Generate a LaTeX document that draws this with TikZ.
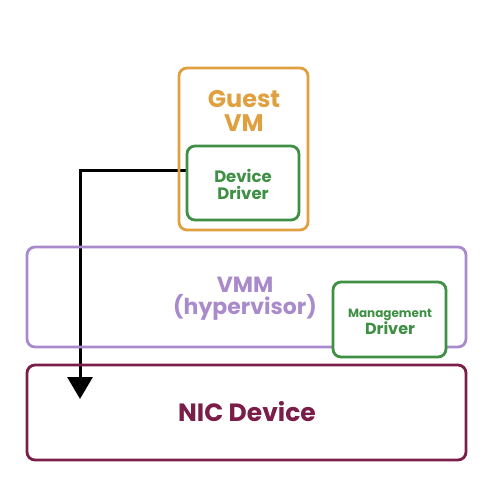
\documentclass[tikz,border=0pt]{standalone}
\usepackage{fontspec}
\setmainfont{Poppins}
\usetikzlibrary{arrows.meta}
\definecolor{guestc}{HTML}{E0A040}
\definecolor{greenc}{HTML}{3F8F45}
\definecolor{purplec}{HTML}{A98BCB}
\definecolor{nicc}{HTML}{7A1D48}
\tikzset{
  box/.style={draw, line width=2.8pt, rounded corners=8pt},
  lbl/.style={font=\bfseries, align=center, inner sep=0pt}
}
\begin{document}
\begin{tikzpicture}[x=1pt,y=-1pt]
\useasboundingbox (0,0) rectangle (493,483);
% anchors
\coordinate (dd) at (187,170);
\coordinate (bend) at (80,170);
\coordinate (nic) at (80,399);
% arrow
\draw[line width=3pt, -{Triangle[length=22pt,width=25pt]}] (dd) -- (bend) -- (nic);
% boxes
\draw[box, guestc] (179,68) rectangle (308,230);
\draw[box, purplec] (27,247) rectangle (466,347);
\draw[box, nicc] (27,365) rectangle (466,460);
\draw[box, greenc, fill=white] (333,282) rectangle (446,357);
\draw[box, greenc, fill=white] (187,146) rectangle (299,220);
% labels
\node[lbl, text=guestc, font=\bfseries\fontsize{24}{24}\selectfont] (guestlbl) at (244,111) {Guest\\VM};
\node[lbl, text=greenc, font=\bfseries\fontsize{16.5}{17}\selectfont] (ddlbl) at (243,184) {Device\\Driver};
\node[lbl, text=purplec, font=\bfseries\fontsize{22}{22}\selectfont] (vmmlbl) at (245,299) {VMM\\(hypervisor)};
\node[lbl, text=greenc] (mglbl) at (390,322) {{\fontsize{12}{12}\selectfont Management}\\[0pt]{\fontsize{16}{16}\selectfont Driver}};
\node[lbl, text=nicc, font=\bfseries\fontsize{25}{26}\selectfont] (niclbl) at (247,412) {NIC Device};
\end{tikzpicture}
\end{document}
